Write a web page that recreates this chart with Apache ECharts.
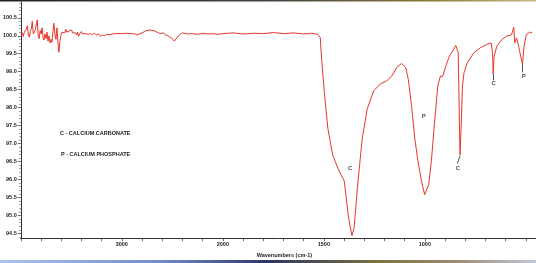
<!DOCTYPE html>
<html><head><meta charset="utf-8">
<script src="https://cdn.jsdelivr.net/npm/echarts@6/dist/echarts.min.js"></script>
<style>html,body{margin:0;padding:0;background:#fff}#c{width:536px;height:263px}</style>
</head><body><div id="c"></div>
<script>
// Wavenumbers (cm-1) and % transmittance
const wavenumbers = [
3995,3985,3975,3965,3955,3945,3935,3925,3915,3905,3895,3886,3876,3867,3857,3847,3837,3827,3818,3808,
3798,3789,3779,3770,3760,3750,3740,3730,3720,3710,3700,3691,3681,3672,3662,3652,3642,3633,3623,3613,
3603,3593,3583,3574,3564,3554,3545,3535,3526,3516,3506,3496,3486,3477,3467,3457,3447,3437,3428,3418,
3408,3398,3389,3379,3369,3350,3330,3310,3290,3270,3250,3230,3210,3190,3170,3150,3120,3090,3060,3000,
2950,2900,2870,2850,2800,2760,2720,2680,2650,2620,2590,2560,2530,2500,2480,2465,2440,2420,2400,2350,
2300,2250,2200,2150,2100,2050,2000,1950,1900,1850,1800,1750,1700,1650,1600,1560,1530,1522,1518,1512,
1496,1480,1456,1431,1415,1399,1391,1378,1361,1350,1334,1310,1285,1253,1220,1188,1164,1139,1115,1095,
1082,1066,1050,1034,1017,1001,993,981,968,955,944,936,923,912,896,879,863,847,842,835,
830,826,819,814,806,790,757,725,693,672,665,662,657,644,620,595,571,563,560,555,
546,538,530,517,509,498,482,469
];
const transmittance = [
100.00,100.08,99.98,100.10,100.05,100.18,100.28,100.02,99.96,100.12,100.20,100.40,100.05,100.02,100.15,100.10,100.44,99.98,99.92,100.15,
100.05,100.22,99.95,99.88,100.05,99.92,100.10,99.85,100.00,99.80,99.90,99.82,100.12,100.35,100.05,99.90,100.22,99.85,99.54,99.85,
100.00,100.10,100.05,100.15,100.08,100.18,100.10,100.12,100.05,100.14,100.10,100.16,100.08,100.12,100.05,100.08,100.02,100.10,99.98,100.05,
100.08,100.12,100.05,100.10,100.06,100.08,100.04,100.06,100.03,100.07,100.02,100.05,99.98,100.02,100.00,100.04,100.03,100.05,100.06,100.06,
100.07,100.06,100.05,100.02,100.08,100.14,100.16,100.14,100.10,100.06,100.08,100.02,99.98,99.92,99.85,99.90,100.00,100.04,100.08,100.05,
100.06,100.04,100.07,100.05,100.06,100.04,100.06,100.08,100.05,100.07,100.06,100.09,100.06,100.08,100.05,100.07,100.04,100.02,99.95,99.43,
98.33,97.42,96.68,96.32,96.13,95.96,95.58,94.94,94.44,94.66,95.77,97.14,97.97,98.47,98.66,98.75,98.88,99.12,99.23,99.12,
98.79,98.06,97.14,96.51,95.96,95.58,95.55,95.86,96.50,97.40,98.10,98.61,98.88,98.87,99.16,99.43,99.57,99.73,99.78,99.54,
97.89,96.68,97.69,98.61,98.98,99.25,99.53,99.67,99.76,99.80,99.53,98.93,99.43,99.71,99.89,99.99,100.03,100.00,100.24,99.80,
99.94,99.76,99.80,99.21,99.71,100.03,100.10,100.08
];
const yTickValues = [94.5,95.0,95.5,96.0,96.5,97.0,97.5,98.0,98.5,99.0,99.5,100.0,100.5];
const xTickLabels = [3000,2000,1500,1000];
const legendLines = ['C - CALCIUM CARBONATE','P - CALCIUM PHOSPHATE'];
// peak label text positions (wavenumber, %T)
const peakLabelText = ['C','P','C','C','P'];
const peakLabelWn   = [1370,1006,837,659,511];
const peakLabelT    = [96.32,97.75,96.32,98.68,98.87];
// short leader lines under some peaks: [wn1,t1,wn2,t2]
const leaders = [[826,96.66,839,96.45],[662,98.93,662,98.76],[517,99.21,517,98.98]];

// axis with 2x expansion below 2000 cm-1
function toU(wn){ return wn >= 2000 ? (4000 - wn) / 2 : 1000 + (2000 - wn); }
function fromU(u){ return u <= 1000 ? 4000 - 2 * u : 3000 - u; }

const minorY = [];
for (let v = 944; v <= 1009; v++) { if (v % 5 !== 0) minorY.push(v / 10); }

const FONT = 'Liberation Sans, Arial, sans-serif';
const chart = echarts.init(document.getElementById('c'), null, {renderer:'canvas'});
chart.setOption({
  animation:false,
  backgroundColor:'#ffffff',
  grid:{left:16.3, right:-3.8, top:2, bottom:22.3},
  xAxis:{
    type:'value', min:0, max:2550, interval:100,
    axisLine:{show:true, onZero:false, lineStyle:{color:'#333', width:1}},
    axisTick:{show:true, length:3, lineStyle:{color:'#444', width:0.8}},
    axisLabel:{customValues:xTickLabels.map(toU), formatter:v=>String(Math.round(fromU(v))),
      fontSize:5.5, fontWeight:'bold', color:'#222', fontFamily:FONT, margin:3},
    splitLine:{show:false},
    name:'Wavenumbers (cm-1)', nameLocation:'middle', nameGap:13,
    nameTextStyle:{fontSize:5.5, fontWeight:'bold', color:'#222', fontFamily:FONT, padding:[0,0,0,12]}
  },
  yAxis:[{
    type:'value', min:94.37, max:100.94,
    axisLine:{show:true, lineStyle:{color:'#333', width:1}},
    axisTick:{show:true, customValues:yTickValues, length:3, lineStyle:{color:'#444', width:0.8}},
    axisLabel:{customValues:yTickValues, formatter:v=>v.toFixed(1),
      fontSize:5.5, fontWeight:'bold', color:'#222', fontFamily:FONT, margin:4},
    splitLine:{show:false}
  },{
    type:'value', min:94.37, max:100.94, position:'left',
    axisLine:{show:false},
    axisTick:{show:true, customValues:minorY, length:1.5, lineStyle:{color:'#555', width:0.7}},
    axisLabel:{show:false}, splitLine:{show:false}
  }],
  series:[{
    type:'line', showSymbol:false, yAxisIndex:0,
    data:wavenumbers.map((w,i)=>[toU(w), transmittance[i]]),
    lineStyle:{color:'#e8362c', width:1},
    markLine:{
      silent:true, symbol:'none', animation:false,
      label:{show:false},
      lineStyle:{color:'#222', width:0.8, type:'solid'},
      data:leaders.map(l=>[{coord:[toU(l[0]),l[1]]},{coord:[toU(l[2]),l[3]]}])
    }
  },{
    type:'scatter', yAxisIndex:0, symbolSize:1,
    itemStyle:{color:'rgba(0,0,0,0)'},
    data:peakLabelText.map((t,i)=>({name:t, value:[toU(peakLabelWn[i]), peakLabelT[i]]})),
    label:{show:true, position:'inside', formatter:p=>p.name,
      fontSize:6, fontWeight:'bold', color:'#222', fontFamily:FONT}
  }],
  graphic:[
    {type:'text', left:60, top:130, style:{text:legendLines[0], fontSize:5.5, fontWeight:'bold', fill:'#222', fontFamily:FONT}},
    {type:'text', left:61, top:151, style:{text:legendLines[1], fontSize:5.5, fontWeight:'bold', fill:'#222', fontFamily:FONT}},
    {type:'rect', shape:{x:0,y:0,width:536,height:1.5}, style:{fill:new echarts.graphic.LinearGradient(0,0,1,0,[
      {offset:0,color:'#222'},{offset:0.5,color:'#444'},{offset:0.8,color:'#8a7a3a'},{offset:1,color:'#c8b888'}])}},
    {type:'rect', shape:{x:0,y:260,width:536,height:3}, style:{fill:new echarts.graphic.LinearGradient(0,0,1,0,[
      {offset:0,color:'#a9c6e6'},{offset:0.3,color:'#6f8fc4'},{offset:0.5,color:'#2c3560'},{offset:0.7,color:'#7a7040'},
      {offset:0.85,color:'#a08a70'},{offset:1,color:'#c0c8d8'}])}}
  ]
});
</script></body></html>
